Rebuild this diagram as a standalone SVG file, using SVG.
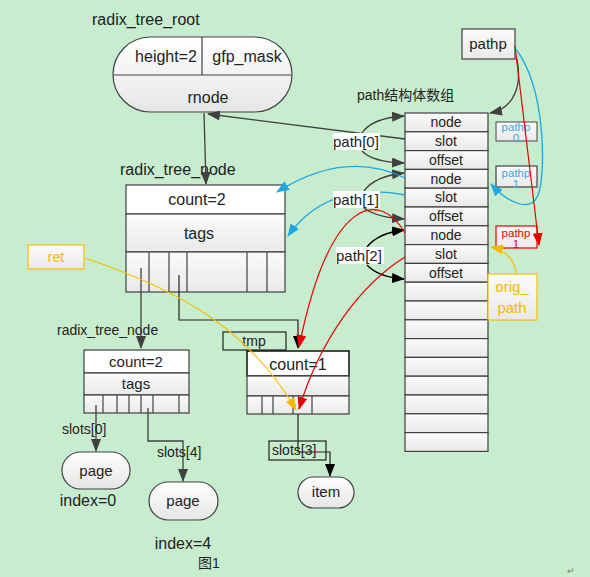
<svg xmlns="http://www.w3.org/2000/svg" width="590" height="577" viewBox="0 0 590 577">
<defs>
<linearGradient id="cell" x1="0" y1="0" x2="0" y2="1"><stop offset="0" stop-color="#fbfbfb"/><stop offset="1" stop-color="#e9e9e9"/></linearGradient>
<linearGradient id="pill" x1="0" y1="0" x2="0" y2="1"><stop offset="0" stop-color="#ffffff"/><stop offset="1" stop-color="#e6e6e6"/></linearGradient>
<marker id="aD" markerUnits="userSpaceOnUse" markerWidth="13" markerHeight="10" refX="12" refY="5" orient="auto"><path d="M0,0 L13,5 L0,10 Z" fill="#404040"/></marker>
<marker id="aK" markerUnits="userSpaceOnUse" markerWidth="13" markerHeight="10" refX="12" refY="5" orient="auto"><path d="M0,0 L13,5 L0,10 Z" fill="#000"/></marker>
<marker id="aB" markerUnits="userSpaceOnUse" markerWidth="13" markerHeight="10" refX="12" refY="5" orient="auto"><path d="M0,0 L13,5 L0,10 Z" fill="#1fa8e0"/></marker>
<marker id="aR" markerUnits="userSpaceOnUse" markerWidth="13" markerHeight="10" refX="12" refY="5" orient="auto"><path d="M0,0 L13,5 L0,10 Z" fill="#e80000"/></marker>
<marker id="aY" markerUnits="userSpaceOnUse" markerWidth="13" markerHeight="10" refX="12" refY="5" orient="auto"><path d="M0,0 L13,5 L0,10 Z" fill="#f5b800"/></marker>
</defs>
<style>
text{font-family:"Liberation Sans","Noto Sans CJK SC",sans-serif;fill:#222;}
.t16{font-size:16px;}
.t15{font-size:15px;}
.t14{font-size:14px;}
.t13{font-size:13px;}
.c{text-anchor:middle;}
.box{fill:url(#cell);stroke:#404040;stroke-width:1.2;}
.wbox{fill:#fff;stroke:#404040;stroke-width:1.2;}
.ln{stroke:#404040;stroke-width:1.2;fill:none;}
.lnk{stroke:#222;stroke-width:1.2;fill:none;}
.cd{stroke:#404040;stroke-width:1.3;fill:none;}
.ck{stroke:#000;stroke-width:1.3;fill:none;}
.cb{stroke:#1fa8e0;stroke-width:1.3;fill:none;}
.cr{stroke:#e80000;stroke-width:1.2;fill:none;}
.cy{stroke:#f5c000;stroke-width:1.2;fill:none;}
.lab{fill:#fff;stroke:none;}
.sm{font-size:11.5px;}
</style>
<rect width="590" height="577" fill="#c8ecce"/>

<g id="root">
<text class="t16" x="92" y="25">radix_tree_root</text>
<rect x="113" y="37" width="179" height="75" rx="37.5" fill="url(#pill)" stroke="#404040" stroke-width="1.2"/>
<line class="ln" x1="113.5" y1="75" x2="291.5" y2="75"/>
<line class="ln" x1="202" y1="37" x2="202" y2="75"/>
<text class="t16 c" x="166" y="62">height=2</text>
<text class="t16 c" x="247" y="62">gfp_mask</text>
<text class="t16 c" x="208" y="103">rnode</text>
</g>

<g id="pathp">
<rect x="462" y="29" width="53" height="30" class="box"/>
<text class="t15 c" x="488" y="49">pathp</text>
</g>

<g id="patharray">
<text class="t14" x="357" y="100">path结构体数组</text>
<g class="box">
<rect x="405" y="113" width="83" height="18.8"/>
<rect x="405" y="131.8" width="83" height="18.8"/>
<rect x="405" y="150.6" width="83" height="18.8"/>
<rect x="405" y="169.4" width="83" height="18.8"/>
<rect x="405" y="188.2" width="83" height="18.8"/>
<rect x="405" y="207" width="83" height="18.8"/>
<rect x="405" y="225.8" width="83" height="18.8"/>
<rect x="405" y="244.6" width="83" height="18.8"/>
<rect x="405" y="263.4" width="83" height="18.8"/>
<rect x="405" y="282.2" width="83" height="18.8"/>
<rect x="405" y="301" width="83" height="18.8"/>
<rect x="405" y="319.8" width="83" height="18.8"/>
<rect x="405" y="338.6" width="83" height="18.8"/>
<rect x="405" y="357.4" width="83" height="18.8"/>
<rect x="405" y="376.2" width="83" height="18.8"/>
<rect x="405" y="395" width="83" height="18.8"/>
<rect x="405" y="413.8" width="83" height="18.8"/>
<rect x="405" y="432.6" width="83" height="18.8"/>
</g>
<g class="t14 c">
<text x="446" y="127">node</text>
<text x="446" y="146">slot</text>
<text x="446" y="165">offset</text>
<text x="446" y="184">node</text>
<text x="446" y="202">slot</text>
<text x="446" y="221">offset</text>
<text x="446" y="240">node</text>
<text x="446" y="259">slot</text>
<text x="446" y="278">offset</text>
</g>
</g>

<g id="pathp0">
<rect x="496" y="122" width="41" height="19" fill="url(#cell)" stroke="#606060" stroke-width="1.2"/>
<text x="516" y="131" style="fill:#3aa6dd" class="sm c">pathp</text>
<text x="516" y="142" style="fill:#3aa6dd" class="sm c">0</text>
</g>
<g id="pathp1b">
<rect x="496" y="166" width="41" height="21" fill="url(#cell)" stroke="#404040" stroke-width="1.2"/>
<text x="516" y="177" style="fill:#3aa6dd" class="sm c">pathp</text>
<text x="516" y="188" style="fill:#3aa6dd" class="sm c">1</text>
</g>
<g id="pathp1r">
<rect x="496" y="226" width="41" height="22" fill="url(#cell)" stroke="#e80000" stroke-width="1.2"/>
<text x="516" y="237" style="fill:#e80000" class="sm c">pathp</text>
<text x="516" y="248" style="fill:#e80000" class="sm c">1</text>
</g>
<g id="origpath">
<rect x="488" y="274" width="49" height="46" fill="url(#cell)" stroke="#f5c000" stroke-width="1.2"/>
<text x="512" y="292" style="font-size:15px;fill:#f5b800" class="c">orig_</text>
<text x="512" y="313" style="font-size:15px;fill:#f5b800" class="c">path</text>
</g>
<g id="ret">
<rect x="28" y="245" width="56" height="24" fill="url(#cell)" stroke="#f5c000" stroke-width="1.2"/>
<text x="56" y="262" style="font-size:14px;fill:#f5b800" class="c">ret</text>
</g>

<g id="node1">
<text class="t16" x="120" y="175">radix_tree_node</text>
<rect x="126" y="185" width="159" height="29" class="wbox"/>
<rect x="126" y="214" width="159" height="38" class="box"/>
<rect x="126" y="252" width="159" height="40" class="box"/>
<g class="ln"><line x1="149" y1="252" x2="149" y2="292"/><line x1="169" y1="252" x2="169" y2="292"/><line x1="187" y1="252" x2="187" y2="292"/><line x1="247" y1="252" x2="247" y2="292"/><line x1="267" y1="252" x2="267" y2="292"/></g>
<text class="t16 c" x="197" y="205">count=2</text>
<text class="t16 c" x="199" y="239">tags</text>
</g>

<g id="node2">
<text class="t14" x="57" y="335">radix_tree_node</text>
<rect x="84" y="350" width="105" height="23" class="wbox"/>
<rect x="84" y="373" width="105" height="22" class="box"/>
<rect x="84" y="395" width="105" height="18" class="box"/>
<g class="ln"><line x1="103" y1="395" x2="103" y2="413"/><line x1="117" y1="395" x2="117" y2="413"/><line x1="129" y1="395" x2="129" y2="413"/><line x1="141" y1="395" x2="141" y2="413"/><line x1="153" y1="395" x2="153" y2="413"/><line x1="179" y1="395" x2="179" y2="413"/></g>
<text class="t15 c" x="136" y="367">count=2</text>
<text class="t15 c" x="136" y="389">tags</text>
</g>

<g id="tmp">
<rect x="223" y="332" width="63" height="18" fill="none" stroke="#222" stroke-width="1.2"/>
<text class="t14 c" x="254" y="346">tmp</text>
</g>

<g id="node3">
<rect x="247" y="351" width="102" height="25" fill="#fff" stroke="#111" stroke-width="1.5"/>
<rect x="247" y="376" width="102" height="20" class="box"/>
<rect x="247" y="396" width="102" height="18" class="box"/>
<g class="ln"><line x1="262" y1="396" x2="262" y2="414"/><line x1="273" y1="396" x2="273" y2="414"/><line x1="293" y1="396" x2="293" y2="414"/><line x1="312" y1="396" x2="312" y2="414"/></g>
<text class="t16 c" x="298" y="370">count=1</text>
</g>

<g id="page1">
<rect x="62" y="452" width="68" height="37" rx="18.5" fill="url(#pill)" stroke="#404040" stroke-width="1.2"/>
<text class="t15 c" x="96" y="476">page</text>
<text class="t16 c" x="88" y="506">index=0</text>
</g>
<g id="page2">
<rect x="149" y="482" width="69" height="38" rx="19" fill="url(#pill)" stroke="#404040" stroke-width="1.2"/>
<text class="t15 c" x="183" y="506">page</text>
<text class="t16 c" x="183" y="549">index=4</text>
</g>
<g id="item">
<rect x="298" y="477" width="56" height="31" rx="15.5" fill="url(#pill)" stroke="#404040" stroke-width="1.2"/>
<text class="t15 c" x="326" y="497">item</text>
</g>

<g id="connectors">
<path class="cd" d="M405,139 L208,114" marker-end="url(#aD)"/>
<path class="cd" d="M204,113 L206,184" marker-end="url(#aD)"/>
<path class="cd" d="M141,268 L141,348" marker-end="url(#aD)"/>
<path class="lnk" d="M179,275 L179,320 L298,320 L298,348" marker-end="url(#aK)"/>
<path class="cd" d="M96,405 L96,451" marker-end="url(#aD)"/>
<path class="cd" d="M148,408 L148,441 L183,441 L183,481" marker-end="url(#aD)"/>
<path class="lnk" d="M298,414 L298,452 L330,452 L330,476" marker-end="url(#aK)"/>

<path class="cd" d="M362,133 Q372,118 404,116" marker-end="url(#aD)"/>
<path class="cd" d="M362,151 Q372,162 404,163" marker-end="url(#aD)"/>
<path class="cd" d="M364,191 Q375,176 404,173" marker-end="url(#aD)"/>
<path class="cd" d="M364,208 Q375,217 404,219" marker-end="url(#aD)"/>
<path class="ck" d="M367,247 Q378,233 404,230" marker-end="url(#aK)"/>
<path class="ck" d="M367,265 Q378,277 404,279" marker-end="url(#aK)"/>

<path class="cd" d="M517,59 C522,85 515,108 490,113" marker-end="url(#aD)"/>
<path class="cb" d="M405,178 Q345,149 277,192" marker-end="url(#aB)"/>
<path class="cb" d="M405,195 C370,188 320,190 288,236" marker-end="url(#aB)"/>
<path class="cb" d="M515,48 C548,90 545,180 538,195 C530,215 505,200 491,184" marker-end="url(#aB)"/>
<path class="cr" d="M515,46 L539,245" marker-end="url(#aR)"/>
<path class="cr" d="M405,233 C380,190 330,195 299,347" marker-end="url(#aR)"/>
<path class="cr" d="M405,257 C360,285 320,340 299,409" marker-end="url(#aR)"/>
<path class="cy" d="M85,258 C180,290 250,330 296,410" marker-end="url(#aY)"/>
<path class="cy" d="M516,273 C515,260 505,250 491,247" marker-end="url(#aY)"/>
</g>

<g id="labels">
<rect class="lab" x="333" y="133" width="47" height="17"/>
<text class="t15" x="333" y="147">path[0]</text>
<rect class="lab" x="333" y="191" width="47" height="17"/>
<text class="t15" x="333" y="205">path[1]</text>
<rect class="lab" x="336" y="247" width="48" height="17"/>
<text class="t15" x="336" y="261">path[2]</text>
<text class="t14" x="62" y="434">slots[0]</text>
<text class="t14" x="157" y="457">slots[4]</text>
<rect x="269" y="441" width="57" height="19" fill="none" stroke="#222" stroke-width="1.2"/>
<text class="t14" x="272" y="455">slots[3]</text>
<text class="t14 c" x="209" y="568">图1</text>
<text x="567" y="574" style="font-size:9px;fill:#777">↵</text>
</g>
</svg>
